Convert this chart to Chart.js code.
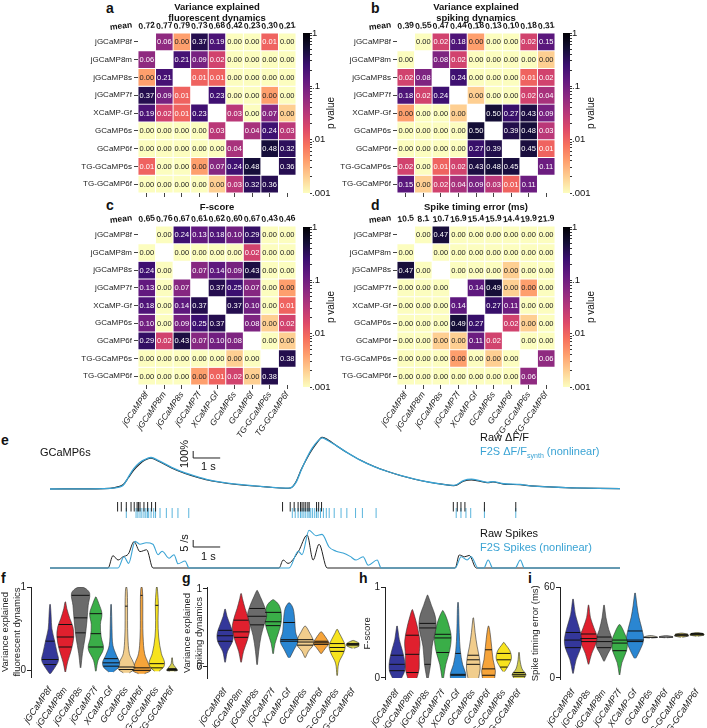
<!DOCTYPE html>
<html>
<head>
<meta charset="utf-8">
<script src="https://cdn.jsdelivr.net/npm/chart.js@4.4.1/dist/chart.umd.min.js"></script>
<style>
  body { margin: 0; width: 707px; height: 728px; position: relative; overflow: hidden; background: #fff; font-family: "Liberation Sans", Arial, sans-serif; color: #111; }
  canvas { position: absolute; }
  .t { position: absolute; white-space: nowrap; font-size: 11px; line-height: 12px; }
  .L { font-weight: bold; font-size: 14px; line-height: 14px; }
  .blue { color: #3aa3d4; }
  .c { transform: translate(-50%, -50%) rotate(-90deg); }
  sub { font-size: 7px; }
</style>
</head>
<body>
<div class="t L" style="left:106px;top:1px">a</div>
<div class="t L" style="left:371px;top:1px">b</div>
<div class="t L" style="left:106px;top:198px">c</div>
<div class="t L" style="left:371px;top:198px">d</div>
<div class="t L" style="left:1px;top:433px">e</div>
<div class="t L" style="left:1px;top:571px">f</div>
<div class="t L" style="left:182px;top:571px">g</div>
<div class="t L" style="left:359px;top:571px">h</div>
<div class="t L" style="left:528px;top:571px">i</div>

<canvas id="hmA" width="300" height="200" style="left:0;top:0"></canvas>
<canvas id="hmB" width="300" height="200" style="left:260px;top:0"></canvas>
<canvas id="hmC" width="300" height="250" style="left:0;top:190px"></canvas>
<canvas id="hmD" width="300" height="250" style="left:260px;top:190px"></canvas>
<canvas id="cbA" width="45" height="176" style="left:300px;top:25px"></canvas>
<canvas id="cbB" width="45" height="176" style="left:560px;top:25px"></canvas>
<canvas id="cbC" width="45" height="176" style="left:300px;top:218px"></canvas>
<canvas id="cbD" width="45" height="176" style="left:560px;top:218px"></canvas>

<div class="t" style="left:40px;top:446px">GCaMP6s</div>
<div class="t c" style="left:184px;top:454px">100%</div>
<div class="t" style="left:201px;top:460px">1 s</div>
<div class="t" style="left:480px;top:431px">Raw ΔF/F</div>
<div class="t blue" style="left:480px;top:445px">F2S ΔF/F<sub>synth</sub> (nonlinear)</div>
<div class="t c" style="left:184px;top:543px">5 /s</div>
<div class="t" style="left:201px;top:550px">1 s</div>
<div class="t" style="left:480px;top:527px">Raw Spikes</div>
<div class="t blue" style="left:480px;top:541px">F2S Spikes (nonlinear)</div>

<canvas id="trF" width="570" height="62" style="left:50px;top:430px"></canvas>
<canvas id="trR" width="570" height="30" style="left:50px;top:495px"></canvas>
<canvas id="trS" width="570" height="46" style="left:50px;top:525px"></canvas>

<canvas id="vF" width="182" height="153" style="left:0;top:575px"></canvas>
<canvas id="vG" width="180" height="153" style="left:182px;top:575px"></canvas>
<canvas id="vH" width="168" height="153" style="left:362px;top:575px"></canvas>
<canvas id="vI" width="177" height="153" style="left:530px;top:575px"></canvas>

<script>
Chart.defaults.font.family = '"Liberation Sans", Arial, sans-serif';
Chart.defaults.color = '#222';
Chart.defaults.animation = false;
Chart.defaults.responsive = false;
Chart.defaults.devicePixelRatio = 1;
Chart.defaults.events = [];
Chart.defaults.plugins.legend.display = false;
Chart.defaults.plugins.tooltip.enabled = false;

// indicators, in matrix order
const names = ['jGCaMP8f', 'jGCaMP8m', 'jGCaMP8s', 'jGCaMP7f', 'XCaMP-Gf', 'GCaMP6s', 'GCaMP6f', 'TG-GCaMP6s', 'TG-GCaMP6f'];
const namesI = ['jGCaMP8f', 'jGCaMP8s', 'jGCaMP8m', 'jGCaMP7f', 'XCaMP-Gf', 'GCaMP6s', 'GCaMP6f', 'TG-GCaMP6s', 'TG-GCaMP6f'];

// column means
const meanA = [0.72, 0.77, 0.79, 0.73, 0.68, 0.42, 0.23, 0.30, 0.21];
const meanB = [0.39, 0.55, 0.47, 0.44, 0.18, 0.13, 0.10, 0.18, 0.31];
const meanC = [0.65, 0.76, 0.67, 0.61, 0.62, 0.60, 0.67, 0.43, 0.46];
const meanD = [10.5, 8.1, 10.7, 16.9, 15.4, 15.9, 14.4, 19.9, 21.9];

// p values (cells printed as 0.00 estimated from their colour)
const Z = 0.0005, LO = 0.002, OR = 0.004;
const pA = [
  [null, .06, OR, .37, .19, Z, Z, .01, Z],
  [.06, null, .21, .09, .02, Z, Z, Z, Z],
  [OR, .21, null, .01, .01, Z, Z, Z, Z],
  [.37, .09, .01, null, .23, Z, Z, OR, Z],
  [.19, .02, .01, .23, null, .03, Z, .07, LO],
  [Z, Z, Z, Z, .03, null, .04, .24, .03],
  [Z, Z, Z, Z, Z, .04, null, .48, .32],
  [.01, Z, Z, OR, .07, .24, .48, null, .36],
  [Z, Z, Z, Z, LO, .03, .32, .36, null]
];
const pB = [
  [null, Z, .02, .18, OR, Z, Z, .02, .15],
  [Z, null, .08, .02, Z, Z, Z, Z, LO],
  [.02, .08, null, .24, Z, Z, Z, .01, .02],
  [.18, .02, .24, null, LO, Z, Z, .02, .04],
  [OR, Z, Z, LO, null, .50, .27, .43, .09],
  [Z, Z, Z, Z, .50, null, .39, .48, .03],
  [Z, Z, Z, Z, .27, .39, null, .45, .01],
  [.02, Z, .01, .02, .43, .48, .45, null, .11],
  [.15, LO, .02, .04, .09, .03, .01, .11, null]
];
const pC = [
  [null, Z, .24, .13, .18, .10, .29, Z, Z],
  [Z, null, Z, Z, Z, Z, .02, Z, Z],
  [.24, Z, null, .07, .14, .09, .43, Z, Z],
  [.13, Z, .07, null, .37, .25, .07, Z, OR],
  [.18, Z, .14, .37, null, .37, .10, Z, .01],
  [.10, Z, .09, .25, .37, null, .08, LO, .02],
  [.29, .02, .43, .07, .10, .08, null, Z, LO],
  [Z, Z, Z, Z, Z, LO, Z, null, .38],
  [Z, Z, Z, OR, .01, .02, LO, .38, null]
];
const pD = [
  [null, Z, .47, Z, Z, Z, Z, Z, Z],
  [Z, null, Z, Z, Z, Z, Z, Z, Z],
  [.47, Z, null, Z, Z, Z, LO, Z, Z],
  [Z, Z, Z, null, .14, .49, LO, OR, Z],
  [Z, Z, Z, .14, null, .27, .11, Z, Z],
  [Z, Z, Z, .49, .27, null, .02, LO, Z],
  [Z, Z, LO, LO, .11, .02, null, Z, Z],
  [Z, Z, Z, OR, Z, LO, Z, null, .06],
  [Z, Z, Z, Z, Z, Z, Z, .06, null]
];

// panel e: GCaMP6s example (time in s)
const tF = [0, 1, 2, 2.4, 2.7, 2.9, 3.1, 3.3, 3.5, 3.74, 4.0, 4.5, 5.0, 5.5, 6.0, 7.0, 8.0, 8.9, 9.1, 9.3, 9.5, 9.7, 9.9, 10.07, 10.3, 10.6, 11, 11.5, 12, 12.5, 13, 13.5, 14, 14.5, 15.0, 15.3, 15.6, 15.9, 16.2, 16.4, 16.8, 17.4, 17.8, 18.5, 19.5, 21.1];
const rawF = [0, 0.02, 0.05, 0.2, 0.6, 1.6, 2.7, 3.5, 4.1, 4.4, 4.0, 3.0, 2.2, 1.6, 1.15, 0.6, 0.3, 0.15, 1.0, 2.8, 4.3, 5.6, 6.7, 7.4, 7.0, 6.2, 5.2, 4.1, 3.2, 2.5, 1.9, 1.4, 1.0, 0.7, 0.5, 1.1, 1.3, 1.1, 0.9, 1.0, 0.7, 0.6, 0.45, 0.3, 0.15, 0.05];
const synF = [0, 0.02, 0.05, 0.15, 0.5, 1.7, 2.9, 3.7, 4.2, 4.5, 4.1, 3.1, 2.3, 1.7, 1.2, 0.65, 0.3, 0.15, 0.9, 2.7, 4.4, 5.8, 6.8, 7.3, 6.9, 6.2, 5.2, 4.1, 3.2, 2.5, 1.9, 1.4, 1.0, 0.7, 0.55, 1.2, 1.4, 1.2, 0.95, 1.05, 0.75, 0.65, 0.45, 0.3, 0.15, 0.05];
const rawSpk = [2.3, 2.44, 2.63, 2.81, 2.93, 3.04, 3.09, 3.15, 3.30, 3.44, 3.59, 3.74, 8.56, 8.85, 9.0, 9.15, 9.24, 9.3, 9.37, 9.44, 9.52, 9.57, 9.85, 9.93, 10.04, 15.04, 15.19, 15.33, 15.48, 16.22, 17.41];
const synSpk = [2.63, 3.0, 3.07, 3.15, 3.22, 3.30, 3.37, 3.43, 3.48, 3.57, 3.67, 3.74, 3.91, 4.15, 4.37, 4.59, 5.0,
  8.93, 9.04, 9.15, 9.24, 9.30, 9.37, 9.44, 9.52, 9.57, 9.63, 9.70, 9.78, 9.85, 9.91, 10.0, 10.11, 10.22, 10.33, 10.52, 10.78, 11.0, 11.33, 11.59, 12.11,
  15.15, 15.33, 15.52, 15.70, 16.22, 17.41];
const tRawS = [0, 2.15, 2.33, 2.52, 2.70, 2.9, 3.11, 3.33, 3.58, 3.81, 8.48, 8.63, 8.81, 9.2, 9.52, 9.74, 9.96, 10.26, 15.0, 15.15, 15.35, 15.52, 15.78, 21.1];
const rawS = [0, 0, 8.8, 5.7, 8, 10, 18.8, 11.7, 13, 0, 0, 5.7, 3.3, 12, 23.5, 5.7, 17, 0, 0, 9.3, 8, 9, 0, 0];
const tSynS = [0, 2.52, 2.74, 2.91, 3.15, 3.33, 3.56, 3.81, 4.0, 4.15, 4.41, 4.59, 4.74, 5.0, 5.15, 8.85, 9.19, 9.33, 9.59, 9.85, 10.07, 10.33, 10.59, 10.85, 11.11, 11.33, 11.59, 11.78, 12.11, 12.26, 15.0, 15.22, 15.44, 15.59, 15.85, 16.06, 16.22, 16.39, 17.22, 17.41, 17.56, 21.1];
const synS = [0, 0, 8, 3.3, 19, 17, 18, 17, 9.5, 12, 7, 9.5, 3, 5, 0, 0, 12, 9.5, 27, 23, 24, 15, 12, 10.7, 8.3, 5.7, 8, 2, 5.7, 0, 0, 8, 5.7, 8, 0, 0, 5.7, 0, 0, 5.7, 0, 0];

// violins: [value, half width] profiles and quartiles
const shapeF = [
  [[-0.04, 0.03], [0.03, 0.3], [0.12, 0.55], [0.22, 0.45], [0.35, 0.3], [0.5, 0.12], [0.65, 0.07], [0.79, 0.02]],
  [[-0.02, 0.02], [0.1, 0.15], [0.25, 0.4], [0.4, 0.55], [0.52, 0.5], [0.62, 0.3], [0.74, 0.1], [0.82, 0.02]],
  [[0.03, 0.02], [0.2, 0.12], [0.4, 0.3], [0.6, 0.42], [0.78, 0.5], [0.92, 0.6], [0.98, 0.35], [1.0, 0.05]],
  [[-0.01, 0.02], [0.12, 0.15], [0.26, 0.5], [0.4, 0.35], [0.55, 0.3], [0.68, 0.4], [0.8, 0.2], [0.88, 0.02]],
  [[-0.02, 0.15], [0.04, 0.5], [0.1, 0.55], [0.18, 0.35], [0.3, 0.12], [0.5, 0.06], [0.79, 0.02]],
  [[-0.03, 0.2], [0.02, 0.55], [0.1, 0.45], [0.2, 0.2], [0.4, 0.1], [0.6, 0.08], [0.8, 0.08], [0.95, 0.06], [1.0, 0.02]],
  [[-0.04, 0.2], [0.0, 0.6], [0.08, 0.45], [0.2, 0.2], [0.4, 0.1], [0.6, 0.08], [0.85, 0.08], [0.98, 0.05], [1.0, 0.02]],
  [[-0.01, 0.15], [0.04, 0.45], [0.1, 0.5], [0.2, 0.3], [0.4, 0.12], [0.6, 0.08], [0.8, 0.1], [0.95, 0.05], [1.0, 0.02]],
  [[-0.01, 0.15], [0.0, 0.35], [0.03, 0.25], [0.08, 0.06], [0.15, 0.02]]
];
const quartF = [[0.07, 0.13, 0.35], [0.28, 0.40, 0.55], [0.45, 0.63, 0.9], [0.28, 0.44, 0.68], [0.05, 0.09, 0.14], [0.01, 0.04, 0.77], [0.0, 0.03, 0.9], [0.03, 0.08, 0.78], [0.0, 0.01, 0.02]];
const shapeG = [
  [[0.06, 0.02], [0.2, 0.15], [0.32, 0.45], [0.42, 0.5], [0.55, 0.3], [0.65, 0.12], [0.74, 0.02]],
  [[0.06, 0.02], [0.2, 0.15], [0.35, 0.4], [0.5, 0.55], [0.62, 0.45], [0.75, 0.25], [0.88, 0.08], [0.94, 0.02]],
  [[0.03, 0.02], [0.2, 0.1], [0.4, 0.25], [0.55, 0.45], [0.66, 0.6], [0.78, 0.45], [0.9, 0.2], [0.98, 0.02]],
  [[0.17, 0.02], [0.3, 0.12], [0.45, 0.35], [0.57, 0.5], [0.7, 0.5], [0.8, 0.35], [0.86, 0.05]],
  [[0.12, 0.05], [0.22, 0.3], [0.33, 0.55], [0.45, 0.4], [0.6, 0.35], [0.75, 0.25], [0.82, 0.05]],
  [[0.12, 0.02], [0.2, 0.2], [0.28, 0.5], [0.35, 0.5], [0.45, 0.25], [0.52, 0.05]],
  [[0.17, 0.02], [0.25, 0.3], [0.3, 0.5], [0.36, 0.35], [0.42, 0.15], [0.45, 0.03]],
  [[-0.11, 0.02], [0.05, 0.1], [0.18, 0.4], [0.27, 0.5], [0.35, 0.35], [0.44, 0.12], [0.48, 0.03]],
  [[0.24, 0.05], [0.27, 0.4], [0.3, 0.4], [0.33, 0.15], [0.34, 0.03]]
];
const quartG = [[0.33, 0.4, 0.47], [0.38, 0.45, 0.6], [0.54, 0.65, 0.75], [0.53, 0.58, 0.7], [0.33, 0.35, 0.57], [0.28, 0.32, 0.35], [0.29, 0.31, 0.33], [0.2, 0.25, 0.3], [0.28, 0.29, 0.3]];
const shapeH = [
  [[0, 0.3], [0.08, 0.5], [0.18, 0.5], [0.3, 0.35], [0.42, 0.15], [0.57, 0.02]],
  [[0, 0.3], [0.1, 0.45], [0.25, 0.45], [0.4, 0.5], [0.55, 0.35], [0.68, 0.15], [0.75, 0.02]],
  [[0, 0.05], [0.15, 0.2], [0.35, 0.3], [0.55, 0.55], [0.68, 0.5], [0.8, 0.25], [0.91, 0.02]],
  [[0, 0.05], [0.15, 0.2], [0.3, 0.45], [0.45, 0.55], [0.58, 0.4], [0.68, 0.2], [0.74, 0.02]],
  [[0, 0.5], [0.05, 0.5], [0.15, 0.3], [0.3, 0.15], [0.5, 0.08], [0.7, 0.05], [0.83, 0.02]],
  [[0, 0.35], [0.1, 0.45], [0.22, 0.4], [0.35, 0.25], [0.5, 0.12], [0.66, 0.02]],
  [[0, 0.4], [0.08, 0.45], [0.2, 0.3], [0.35, 0.2], [0.5, 0.1], [0.57, 0.02]],
  [[0.07, 0.05], [0.15, 0.35], [0.22, 0.5], [0.3, 0.4], [0.36, 0.15], [0.39, 0.02]],
  [[0, 0.35], [0.04, 0.45], [0.1, 0.2], [0.2, 0.06], [0.28, 0.02]]
];
const quartH = [[0.08, 0.15, 0.25], [0.06, 0.26, 0.47], [0.15, 0.55, 0.6], [0.28, 0.44, 0.48], [0.03, 0.04, 0.27], [0.15, 0.2, 0.25], [0.03, 0.1, 0.31], [0.12, 0.2, 0.27], [0.02, 0.04, 0.06]];
const shapeI = [
  [[3, 0.02], [12, 0.2], [20, 0.5], [26, 0.55], [33, 0.4], [42, 0.15], [52, 0.02]],
  [[9, 0.02], [16, 0.2], [22, 0.45], [27, 0.55], [33, 0.35], [40, 0.12], [48, 0.02]],
  [[11, 0.02], [16, 0.25], [21, 0.5], [26, 0.5], [32, 0.3], [40, 0.12], [48, 0.02]],
  [[2, 0.02], [10, 0.15], [18, 0.45], [24, 0.5], [30, 0.3], [35, 0.05]],
  [[13, 0.05], [18, 0.3], [25, 0.55], [32, 0.45], [40, 0.25], [48, 0.12], [56, 0.02]],
  [[26.3, 0.05], [26.8, 0.45], [27.5, 0.3], [28, 0.05]],
  [[26.5, 0.05], [27, 0.45], [27.6, 0.3], [28, 0.05]],
  [[26.8, 0.05], [27.8, 0.45], [28.8, 0.4], [29.6, 0.05]],
  [[27.5, 0.05], [28.4, 0.45], [29.3, 0.4], [30, 0.05]]
];
const quartI = [[20, 25, 30], [24, 26, 29], [20, 24, 27], [18, 23, 25], [24, 25, 31], [26.8], [27], [27.8, 28.3, 28.8], [28.4, 28.8, 29.3]];

const vColors = ['#34379a', '#e0202e', '#6b6b6b', '#3aae48', '#2a86d2', '#f1cd8c', '#f6a43a', '#f7e31e', '#d2cd4e'];
const vColorsI = ['#34379a', '#e0202e', '#6b6b6b', '#3aae48', '#2a86d2', '#d7d0b8', '#c9c9c9', '#e3d36a', '#d2cd4e'];
const BLUE = '#3aa3d4';

// reversed magma on log p
const magma = ['#000004', '#140e36', '#3b0f70', '#641a80', '#8c2981', '#b73779', '#de4968', '#f7705c', '#fe9f6d', '#fecf92', '#fcfdbf'];
function hex(h) { return [1, 3, 5].map(i => parseInt(h.substr(i, 2), 16)); }
function pT(p) { return Math.min(1, Math.max(0, -Math.log10(Math.max(p, 0.001)) / 3)); }
function cmap(p) {
  const f = pT(p) * 10, i = Math.min(9, Math.floor(f)), u = f - i;
  const a = hex(magma[i]), b = hex(magma[i + 1]);
  return 'rgb(' + a.map((v, k) => Math.round(v + (b[k] - v) * u)).join(',') + ')';
}

const cellText = {
  id: 'cellText',
  afterDatasetsDraw(chart) {
    const ctx = chart.ctx;
    ctx.save();
    ctx.font = '7.5px "Liberation Sans", Arial, sans-serif';
    ctx.textAlign = 'center';
    ctx.textBaseline = 'middle';
    chart.data.datasets.forEach((ds, r) => {
      chart.getDatasetMeta(r).data.forEach((bar, c) => {
        const p = ds.pvals[c];
        if (p == null) return;
        const b = bar.getProps(['x', 'y', 'base'], true);
        ctx.fillStyle = pT(p) < 0.74 ? '#fff' : '#222';
        ctx.fillText(p.toFixed(2), b.x, (b.y + b.base) / 2 + 0.5);
      });
    });
    ctx.restore();
  }
};

const hmDeco = {
  id: 'hmDeco',
  afterDraw(chart, args, o) {
    const ctx = chart.ctx, area = chart.chartArea, xs = chart.scales.x;
    ctx.save();
    ctx.fillStyle = '#111';
    ctx.textAlign = 'center';
    ctx.textBaseline = 'middle';
    ctx.font = 'bold 9.5px "Liberation Sans", Arial, sans-serif';
    o.title.forEach((line, i) => ctx.fillText(line, (area.left + area.right) / 2, area.top + o.titleY[i]));
    ctx.font = 'bold 8.5px "Liberation Sans", Arial, sans-serif';
    o.means.forEach((m, i) => {
      ctx.save();
      ctx.translate(xs.getPixelForValue(i), area.top - 7);
      ctx.rotate(-0.12);
      ctx.fillText(m.toFixed(o.dec), 0, 0);
      ctx.restore();
    });
    ctx.save();
    ctx.translate(area.left - 6, area.top - 8);
    ctx.rotate(-0.12);
    ctx.textAlign = 'right';
    ctx.fillText('mean', 0, 0);
    ctx.restore();
    ctx.restore();
  }
};

function heatmap(id, pv, o) {
  new Chart(document.getElementById(id), {
    type: 'bar',
    data: {
      labels: names,
      datasets: pv.map((row, r) => ({
        data: row.map(p => p == null ? null : [r, r + 1]),
        pvals: row,
        backgroundColor: row.map(p => p == null ? 'rgba(0,0,0,0)' : cmap(p)),
        borderColor: '#fff', borderWidth: 0.8, borderSkipped: false,
        grouped: false, barPercentage: 1, categoryPercentage: 1
      }))
    },
    options: {
      layout: { padding: { top: o.padTop, right: o.padRight, left: 0, bottom: 0 } },
      plugins: { hmDeco: o },
      scales: {
        x: {
          grid: { drawOnChartArea: false, offset: false, tickLength: 4, color: '#444' },
          border: { display: false },
          ticks: { autoSkip: false, minRotation: 55, maxRotation: 55, padding: 1, font: { size: 8.5, style: 'italic' },
                   callback: (v, i) => o.showX ? names[i] : '' },
          afterFit: s => { s.height = o.xH; }
        },
        y: {
          min: 0, max: 9, reverse: true,
          grid: { drawOnChartArea: false, tickLength: 4, color: '#444' },
          border: { display: false },
          afterBuildTicks: s => { s.ticks = names.map((n, i) => ({ value: i + 0.5 })); },
          ticks: { font: { size: 8 }, padding: 2, callback: (v, i) => names[i] },
          afterFit: s => { s.width = o.yW; }
        }
      }
    },
    plugins: [cellText, hmDeco]
  });
}

heatmap('hmA', pA, { padTop: 33, padRight: 4, xH: 7, yW: 138, showX: false, means: meanA, dec: 2,
  title: ['Variance explained', 'fluorescent dynamics'], titleY: [-26, -15] });
heatmap('hmB', pB, { padTop: 33, padRight: 5, xH: 7, yW: 137, showX: false, means: meanB, dec: 2,
  title: ['Variance explained', 'spiking dynamics'], titleY: [-26, -15] });
heatmap('hmC', pC, { padTop: 36, padRight: 4, xH: 55, yW: 138, showX: true, means: meanC, dec: 2,
  title: ['F-score'], titleY: [-19] });
heatmap('hmD', pD, { padTop: 36, padRight: 5, xH: 55, yW: 137, showX: true, means: meanD, dec: 1,
  title: ['Spike timing error (ms)'], titleY: [-19] });

// colour bars
const cbLabel = {
  id: 'cbLabel',
  afterDraw(chart) {
    const ctx = chart.ctx, a = chart.chartArea;
    ctx.save();
    ctx.translate(a.right + 21, (a.top + a.bottom) / 2);
    ctx.rotate(-Math.PI / 2);
    ctx.textAlign = 'center';
    ctx.textBaseline = 'middle';
    ctx.fillStyle = '#111';
    ctx.font = '10px "Liberation Sans", Arial, sans-serif';
    ctx.fillText('p value', 0, 0);
    ctx.restore();
  }
};
const cbTicks = [];
for (let e = -3; e <= 0; e++) for (let k = 1; k <= 9; k++) { if (e === 0 && k > 1) break; cbTicks.push(k * Math.pow(10, e)); }
function colorbar(id, top) {
  new Chart(document.getElementById(id), {
    type: 'bar',
    data: { labels: [''], datasets: [{
      data: [[0.001, 1]], barPercentage: 1, categoryPercentage: 1, borderWidth: 0,
      backgroundColor: c => {
        const a = c.chart.chartArea;
        if (!a) return '#000';
        const g = c.chart.ctx.createLinearGradient(0, a.bottom, 0, a.top);
        magma.forEach((m, i) => g.addColorStop(i / 10, magma[10 - i]));
        return g;
      }
    }] },
    options: {
      layout: { padding: { left: 3, top: top, bottom: 176 - top - 160, right: 0 } },
      scales: {
        x: { display: false },
        y: {
          type: 'logarithmic', position: 'right', min: 0.001, max: 1,
          grid: { drawOnChartArea: false, tickLength: 2, color: '#333' },
          border: { display: false },
          afterBuildTicks: s => { s.ticks = cbTicks.map(v => ({ value: v })); },
          ticks: { autoSkip: false, padding: 0, font: { size: 9.5 }, color: '#111',
            callback: v => { const l = Math.log10(v); return Math.abs(l - Math.round(l)) < 1e-6 ? ({ 0: '1', '-1': '.1', '-2': '.01', '-3': '.001' })[Math.round(l)] : ''; } },
          afterFit: s => { s.width = 35; }
        }
      }
    },
    plugins: [cbLabel]
  });
}
colorbar('cbA', 8);
colorbar('cbB', 8);
colorbar('cbC', 9);
colorbar('cbD', 9);

// panel e traces
const xT = { type: 'linear', min: 0, max: 21.1, display: false };
const pts = (t, v) => t.map((x, i) => ({ x: x, y: v[i] }));
new Chart(document.getElementById('trF'), {
  type: 'line',
  data: { datasets: [
    { data: pts(tF, synF), borderColor: BLUE, borderWidth: 1.3, pointRadius: 0, tension: 0.3 },
    { data: pts(tF, rawF), borderColor: '#222', borderWidth: 1.1, pointRadius: 0, tension: 0.3 },
    { data: [{ x: 6.3, y: 4.43 }, { x: 5.3, y: 4.43 }, { x: 5.3, y: 5.43 }], borderColor: '#222', borderWidth: 1, pointRadius: 0 }
  ] },
  options: { scales: { x: xT, y: { min: -0.43, max: 8.43, display: false } } }
});
new Chart(document.getElementById('trR'), {
  type: 'scatter',
  data: { datasets: [
    { data: rawSpk.map(t => ({ x: t, y: 1 })), pointStyle: 'line', pointRotation: 90, pointRadius: 5.5, pointBorderColor: '#222', pointBorderWidth: 1 },
    { data: synSpk.map(t => ({ x: t, y: 0 })), pointStyle: 'line', pointRotation: 90, pointRadius: 6, pointBorderColor: '#5ab4dc', pointBorderWidth: 1 }
  ] },
  options: { scales: { x: xT, y: { min: -0.5, max: 1.5, display: false } } }
});
new Chart(document.getElementById('trS'), {
  type: 'line',
  data: { datasets: [
    { data: pts(tSynS, synS), borderColor: BLUE, borderWidth: 1.1, pointRadius: 0, cubicInterpolationMode: 'monotone' },
    { data: pts(tRawS, rawS), borderColor: '#222', borderWidth: 1, pointRadius: 0, cubicInterpolationMode: 'monotone' },
    { data: [{ x: 6.3, y: 15 }, { x: 5.3, y: 15 }, { x: 5.3, y: 20 }], borderColor: '#222', borderWidth: 1, pointRadius: 0 }
  ] },
  options: { scales: { x: xT, y: { min: -2.14, max: 30.7, display: false } } }
});

// violins
function hwAt(s, v) {
  for (let i = 0; i < s.length - 1; i++) {
    const [a, wa] = s[i], [b, wb] = s[i + 1];
    if (v >= a && v <= b) return wa + (wb - wa) * (v - a) / ((b - a) || 1);
  }
  return 0.05;
}
function violins(id, cats, shapes, quarts, colors, o) {
  const qPts = [];
  quarts.forEach((qs, k) => qs.forEach(q => {
    const w = hwAt(shapes[k], q);
    qPts.push({ x: k - w, y: q }, { x: k + w, y: q }, { x: k, y: null });
  }));
  const ds = [{ data: qPts, borderColor: '#111', borderWidth: 1, pointRadius: 0, fill: false, spanGaps: false }];
  shapes.forEach((s, k) => ds.push({
    data: [...s.map(([v, w]) => ({ x: k + w, y: v })), ...s.slice().reverse().map(([v, w]) => ({ x: k - w, y: v }))],
    backgroundColor: colors[k], borderColor: '#333', borderWidth: 0.6, pointRadius: 0, fill: 'shape', tension: 0.35
  }));
  new Chart(document.getElementById(id), {
    type: 'line',
    data: { datasets: ds },
    options: {
      layout: { padding: { top: o.padTop, left: 0, right: 0, bottom: 0 } },
      scales: {
        x: {
          type: 'linear', min: o.xmin, max: o.xmax,
          grid: { display: false }, border: { display: false },
          afterBuildTicks: s => { s.ticks = cats.map((c, i) => ({ value: i })); },
          ticks: { autoSkip: false, minRotation: 55, maxRotation: 55, padding: 0, font: { size: 9, style: 'italic' }, callback: (v, i) => cats[i] },
          afterFit: s => { s.height = o.xH; }
        },
        y: {
          min: o.ymin, max: o.ymax,
          grid: { drawOnChartArea: false, tickLength: 4, color: '#222' },
          border: { display: true, color: '#222' },
          afterBuildTicks: s => { s.ticks = o.yTicks.map(v => ({ value: v })); },
          ticks: { font: { size: 10 }, padding: 1 },
          title: { display: true, text: o.yTitle, font: { size: 9.5 }, padding: 0 },
          afterFit: s => { s.width = o.yW; }
        }
      }
    }
  });
}
violins('vF', names, shapeF, quartF, vColors, { padTop: 12, xH: 51, yW: 31, xmin: -1.25, xmax: 8.65, ymin: -0.08, ymax: 1.0, yTicks: [0, 1],
  yTitle: ['Variance explained', 'fluorescent dynamics'] });
violins('vG', names, shapeG, quartG, vColors, { padTop: 12.4, xH: 49.3, yW: 25, xmin: -1.13, xmax: 8.38, ymin: -0.15, ymax: 1.02, yTicks: [0, 1],
  yTitle: ['Variance explained', 'spiking dynamics'] });
violins('vH', names, shapeH, quartH, vColors, { padTop: 12, xH: 48.2, yW: 23, xmin: -0.79, xmax: 8.72, ymin: -0.02, ymax: 1.0, yTicks: [0, 1],
  yTitle: 'F-score' });
violins('vI', namesI, shapeI, quartI, vColorsI, { padTop: 12, xH: 48.5, yW: 30, xmin: -0.84, xmax: 8.64, ymin: -1, ymax: 60, yTicks: [0, 60],
  yTitle: 'Spike timing error (ms)' });
</script>
</body>
</html>
